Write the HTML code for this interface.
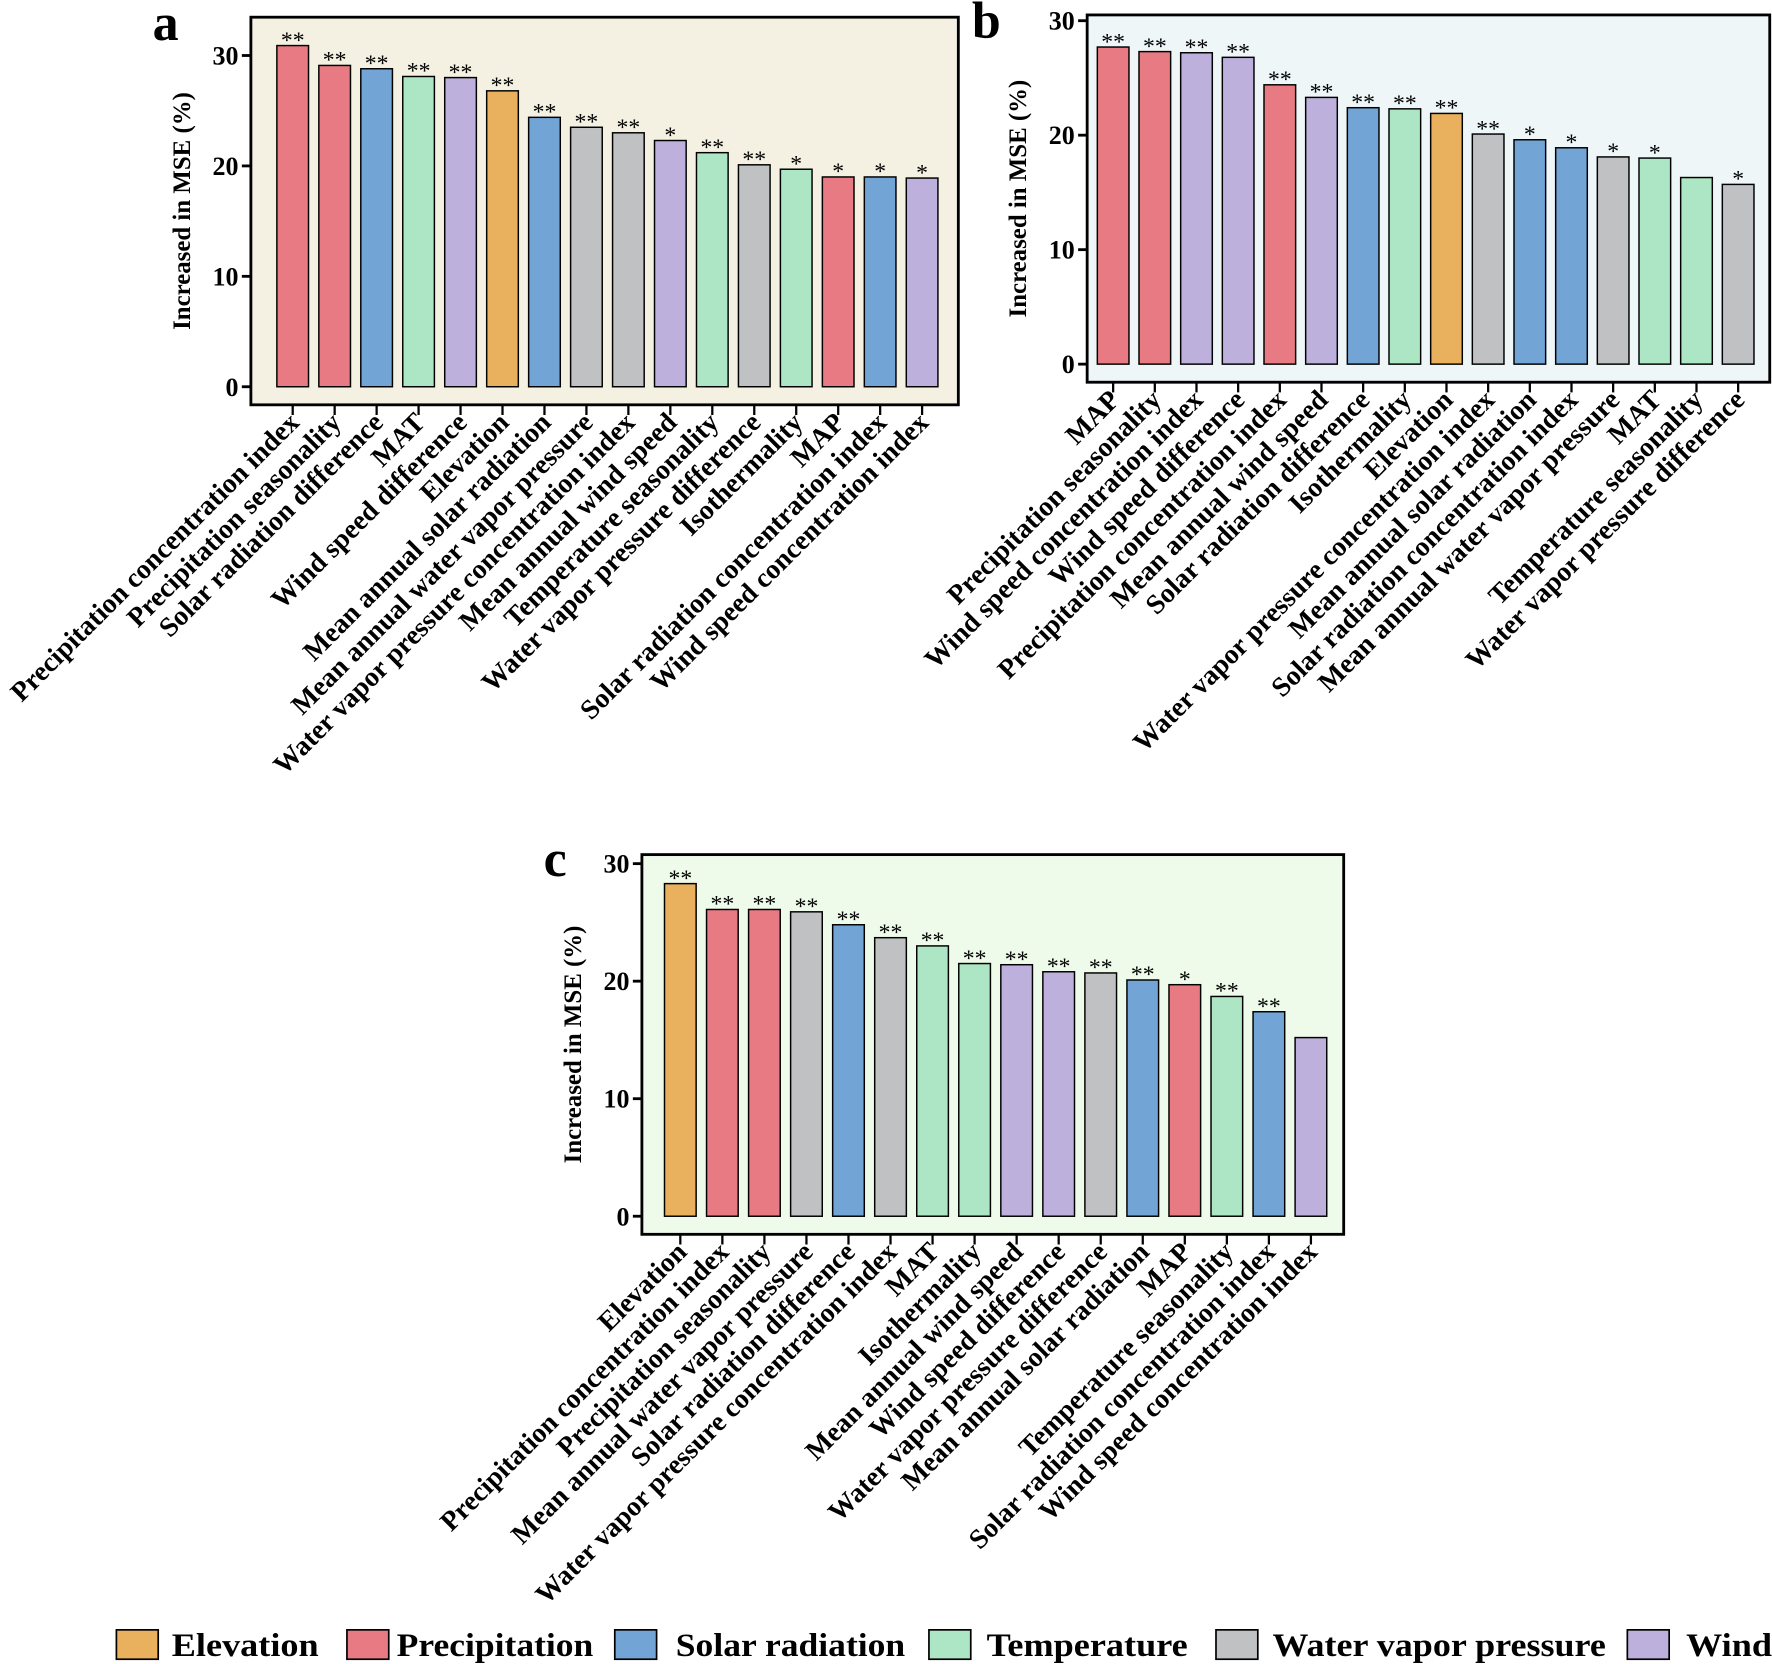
<!DOCTYPE html>
<html><head><meta charset="utf-8"><style>
html,body{margin:0;padding:0;background:#fff;}
svg{display:block;font-family:"Liberation Serif",serif;font-weight:bold;}
</style></head><body>
<svg id="s" width="1772" height="1664" viewBox="0 0 1568 1472" xmlns="http://www.w3.org/2000/svg"></svg>
<script>
const C={P:"#e77a82",S:"#72a4d6",T:"#ade6c4",W:"#beb0dc",V:"#c0c1c3",E:"#e9b05d"};
const panels=[
{L:"a",lx:135,ly:35,x0:222,x1:848,y0:15,y1:358,z:342,u:9.77,b0:259,bs:37.13,bg:"#f4f0e2",
v:[30.9,29.1,28.8,28.1,28.0,26.8,24.4,23.5,23.0,22.3,21.2,20.1,19.7,19.0,19.0,18.9],
c:"PPSTWESVVWTVTPSW",st:["**","**","**","**","**","**","**","**","**","*","**","**","*","*","*","*"],
n:["Precipitation concentration index","Precipitation seasonality","Solar radiation difference","MAT","Wind speed difference","Elevation","Mean annual solar radiation","Mean annual water vapor pressure","Water vapor pressure concentration index","Mean annual wind speed","Temperature seasonality","Water vapor pressure difference","Isothermality","MAP","Solar radiation concentration index","Wind speed concentration index"]},
{L:"b",lx:860,ly:33,x0:962,x1:1566,y0:13,y1:338,z:322,u:10.13,b0:985,bs:36.87,bg:"#eef6f8",
v:[27.7,27.3,27.2,26.8,24.4,23.3,22.4,22.3,21.9,20.1,19.6,18.9,18.1,18.0,16.3,15.7],
c:"PPWWPWSTEVSSVTTV",st:["**","**","**","**","**","**","**","**","**","**","*","*","*","*","","*"],
n:["MAP","Precipitation seasonality","Wind speed concentration index","Wind speed difference","Precipitation concentration index","Mean annual wind speed","Solar radiation difference","Isothermality","Elevation","Water vapor pressure concentration index","Mean annual solar radiation","Solar radiation concentration index","Mean annual water vapor pressure","MAT","Temperature seasonality","Water vapor pressure difference"]},
{L:"c",lx:481,ly:775,x0:568,x1:1189,y0:756,y1:1092,z:1076,u:10.4,b0:602,bs:37.2,bg:"#eefaea",
v:[28.3,26.1,26.1,25.9,24.8,23.7,23.0,21.5,21.4,20.8,20.7,20.1,19.7,18.7,17.4,15.2],
c:"EPPVSVTTWWVSPTSW",st:["**","**","**","**","**","**","**","**","**","**","**","**","*","**","**",""],
n:["Elevation","Precipitation concentration index","Precipitation seasonality","Mean annual water vapor pressure","Solar radiation difference","Water vapor pressure concentration index","MAT","Isothermality","Mean annual wind speed","Wind speed difference","Water vapor pressure difference","Mean annual solar radiation","MAP","Temperature seasonality","Solar radiation concentration index","Wind speed concentration index"]}
];
let h="";
for(const p of panels){
 h+=`<rect x="${p.x0}" y="${p.y0}" width="${p.x1-p.x0}" height="${p.y1-p.y0}" fill="${p.bg}" stroke="#000" stroke-width="2.5"/>`;
 h+=`<text x="${p.lx}" y="${p.ly}" font-size="46">${p.L}</text>`;
 for(let t=0;t<=30;t+=10){const y=p.z-t*p.u;
  h+=`<line x1="${p.x0-8}" x2="${p.x0}" y1="${y}" y2="${y}" stroke="#000" stroke-width="2.5"/>`;
  h+=`<text x="${p.x0-11}" y="${y+8}" font-size="23" text-anchor="end">${t}</text>`;}
 const my=(p.y0+p.y1)/2;
 h+=`<text transform="translate(${p.x0-54},${my}) rotate(-90)" font-size="22" text-anchor="middle">Increased in MSE (%)</text>`;
 p.v.forEach((v,i)=>{const x=p.b0+i*p.bs,top=p.z-v*p.u;
  h+=`<rect x="${x-14}" y="${top}" width="28" height="${v*p.u}" fill="${C[p.c[i]]}" stroke="#000" stroke-width="1.3"/>`;
  if(p.st[i])h+=`<text x="${x}" y="${top+2}" font-size="21" font-weight="normal" text-anchor="middle">${p.st[i]}</text>`;
  h+=`<line x1="${x}" x2="${x}" y1="${p.y1}" y2="${p.y1+9}" stroke="#000" stroke-width="2"/>`;
  h+=`<text transform="translate(${x+7},${p.y1+17}) rotate(-45)" font-size="24.5" text-anchor="end">${p.n[i]}</text>`;
 });
}
const lg=[["Elevation","E",103,152,130],["Precipitation","P",307,351,174],["Solar radiation","S",544,598,203],["Temperature","T",822,873,178],["Water vapor pressure","V",1076,1126,295],["Wind","W",1440,1492,76]];
for(const [t,k,x,tx,w] of lg){h+=`<rect x="${x}" y="1442" width="37" height="26" fill="${C[k]}" stroke="#000" stroke-width="1.5"/><text x="${tx}" y="1465" font-size="29" textLength="${w}" lengthAdjust="spacingAndGlyphs">${t}</text>`;}
document.getElementById("s").innerHTML=h;
</script>
</body></html>
